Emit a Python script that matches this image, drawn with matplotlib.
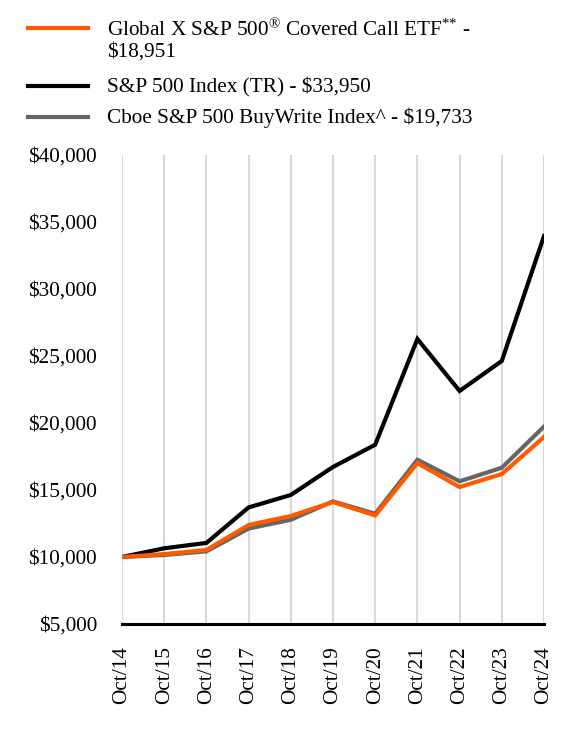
import matplotlib
matplotlib.use("Agg")
import matplotlib.pyplot as plt
from matplotlib.lines import Line2D
from matplotlib.ticker import FuncFormatter

plt.rcParams['font.family'] = ['Liberation Serif', 'DejaVu Serif']
plt.rcParams['mathtext.fontset'] = 'custom'
plt.rcParams['mathtext.rm'] = 'Liberation Serif'
plt.rcParams['mathtext.it'] = 'Liberation Serif'
plt.rcParams['mathtext.bf'] = 'Liberation Serif'

categories = ["Oct/14", "Oct/15", "Oct/16", "Oct/17", "Oct/18", "Oct/19",
              "Oct/20", "Oct/21", "Oct/22", "Oct/23", "Oct/24"]
etf = [10000, 10220, 10520, 12390, 13060, 14100, 13100, 17010, 15220, 16190, 18951]
sp500 = [10000, 10650, 11050, 13700, 14630, 16720, 18380, 26270, 22390, 24630, 33950]
bxm = [10000, 10150, 10420, 12120, 12780, 14150, 13230, 17260, 15650, 16660, 19733]
yticks = [5000, 10000, 15000, 20000, 25000, 30000, 35000, 40000]

etf_label = ["Global X S&P 500$^{®}$ Covered Call ETF$^{{*}{*}}$ -", "\\$18,951"]
sp_label = ["S&P 500 Index (TR) - \\$33,950"]
bxm_label = ["Cboe S&P 500 BuyWrite Index^ - \\$19,733"]

FS = 15.3
W, H = 564, 732
C_ETF, C_SP, C_BXM = "#FF5A00", "#000000", "#666666"

fig = plt.figure(figsize=(W/100, H/100), dpi=100)
ax = fig.add_axes([122/W, 1-624/H, (544-122)/W, (624-155)/H])

x = list(range(len(categories)))
ax.plot(x, bxm, color=C_BXM, lw=3.0, zorder=3, solid_joinstyle='miter')
ax.plot(x, sp500, color=C_SP, lw=3.0, zorder=4, solid_joinstyle='miter')
ax.plot(x, etf, color=C_ETF, lw=3.0, zorder=5, solid_joinstyle='miter')

ax.set_xlim(0, len(categories)-1)
ax.set_ylim(5000, 40000)
ax.set_yticks(yticks)
ax.yaxis.set_major_formatter(FuncFormatter(lambda v, p: "${:,.0f}".format(v)))
ax.set_xticks(x)
ax.set_xticklabels(categories, rotation=90)
ax.tick_params(axis='y', length=0, pad=18, labelsize=FS)
ax.tick_params(axis='x', length=0, pad=16, labelsize=FS)
ax.grid(axis='x', color="#d9d9d9", lw=1.5, zorder=0)
ax.grid(axis='y', visible=False)
for s in ['left', 'right', 'top']:
    ax.spines[s].set_visible(False)
ax.spines['bottom'].set_linewidth(2.2)
ax.spines['bottom'].set_color('black')
ax.spines['bottom'].set_zorder(6)

# legend, drawn manually
entries = [(C_ETF, 28.3, etf_label, [36.0, 56.7]),
           (C_SP, 86.0, sp_label, [92.3]),
           (C_BXM, 116.7, bxm_label, [123.3])]
for color, ly, texts, baselines in entries:
    fig.add_artist(Line2D([28/W, 88/W], [1-ly/H, 1-ly/H], color=color, lw=3.0,
                          transform=fig.transFigure))
    for t, b in zip(texts, baselines):
        fig.text(107/W, 1-b/H, t, fontsize=FS, ha='left', va='baseline')

fig.savefig("out.png", dpi=100)
